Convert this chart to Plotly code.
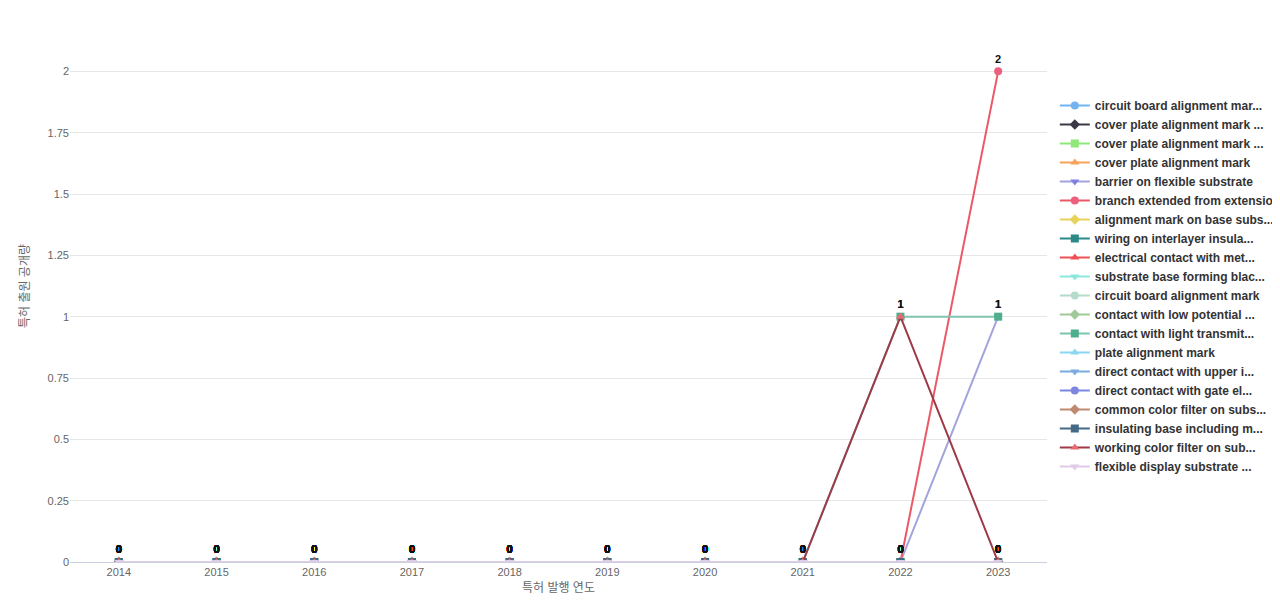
import plotly.graph_objects as go

years = [2014, 2015, 2016, 2017, 2018, 2019, 2020, 2021, 2022, 2023]

names = [
    "circuit board alignment mar...", "cover plate alignment mark ...", "cover plate alignment mark ...",
    "cover plate alignment mark", "barrier on flexible substrate", "branch extended from extension",
    "alignment mark on base subs...", "wiring on interlayer insula...", "electrical contact with met...",
    "substrate base forming blac...", "circuit board alignment mark", "contact with low potential ...",
    "contact with light transmit...", "plate alignment mark", "direct contact with upper i...",
    "direct contact with gate el...", "common color filter on subs...", "insulating base including m...",
    "working color filter on sub...", "flexible display substrate ...",
]
colors = ["#73b3f0", "#3a3a46", "#8ee87a", "#f7a35c", "#8080e0", "#ee5f7f", "#e8d35a", "#2b8a87",
          "#ef4f56", "#8ce8de", "#b5dccb", "#a2c99a", "#4fae8e", "#8ad8ef", "#7aacdf", "#7c86e0",
          "#c08a70", "#446a86", "#e86a70", "#e0cce6"]
symbols = ["circle", "diamond", "square", "triangle-up", "triangle-down", "circle", "diamond", "square",
           "triangle-up", "triangle-down", "circle", "diamond", "square", "triangle-up", "triangle-down",
           "circle", "diamond", "square", "triangle-up", "triangle-down"]

zeros = [0] * 10
values = {i: zeros for i in range(20)}
values[4] = [0, 0, 0, 0, 0, 0, 0, 0, 0, 1]     # barrier on flexible substrate
values[5] = [0, 0, 0, 0, 0, 0, 0, 0, 0, 2]     # branch extended from extension
values[12] = [0, 0, 0, 0, 0, 0, 0, 0, 1, 1]    # contact with light transmit...
values[18] = [0, 0, 0, 0, 0, 0, 0, 0, 1, 0]    # working color filter on sub...

line_colors = {4: "#a2a4db", 5: "#ec5866", 12: "#7fc4b0", 18: "#9e3a47"}

fig = go.Figure()
for i, n in enumerate(names):
    fig.add_trace(go.Scatter(
        x=years, y=values[i], name="<b>" + n + "</b>", mode="lines+markers+text",
        text=["<b>%d</b>" % v for v in values[i]], textposition="top center",
        textfont=dict(size=11, color="#111", family="Liberation Sans"),
        line=dict(color=line_colors.get(i, colors[i]), width=2),
        marker=dict(symbol=symbols[i], size=8, color=colors[i]),
    ))

fig.update_layout(
    width=1280, height=600, plot_bgcolor="white", paper_bgcolor="white",
    margin=dict(l=62, r=236, t=2, b=46),
    font=dict(family="Liberation Sans, Noto Sans CJK KR", size=11, color="#666"),
    legend=dict(x=1.008, y=0.5, yanchor="middle", tracegroupgap=0, itemwidth=30,
                font=dict(size=12, color="#333", family="Liberation Sans")),
    xaxis=dict(title=dict(text="특허 발행 연도", font=dict(size=12), standoff=6), tickmode="array",
               tickvals=years, range=[2013.5, 2023.5], showgrid=False, showline=True, linecolor="#c9d0e0"),
    yaxis=dict(title=dict(text="특허 출원 공개량", font=dict(size=12)), range=[0, 2.25], dtick=0.25,
               gridcolor="#e6e6e6", zeroline=False),
)
fig.write_html("out.html")
